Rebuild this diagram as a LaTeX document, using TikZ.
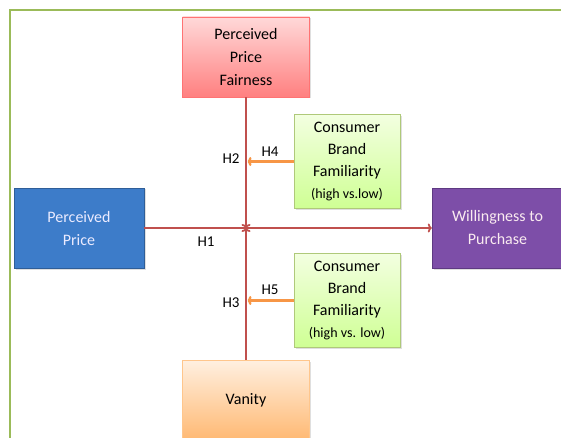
\documentclass[tikz,border=0pt]{standalone}
\usepackage{fontspec}
\setmainfont{Carlito}
\usetikzlibrary{arrows.meta,shadows}
\definecolor{framegreen}{HTML}{9BBB59}
\definecolor{redline}{HTML}{C0504D}
\definecolor{orangeline}{HTML}{F79646}
\definecolor{bluefill}{HTML}{3D7CC9}
\definecolor{blueborder}{HTML}{2F5E98}
\definecolor{purplefill}{HTML}{7D4EA8}
\definecolor{purpleborder}{HTML}{5E3A82}
\tikzset{
  x=1pt,y=1pt,
  boxbase/.style={rectangle,align=center,inner sep=0pt,font=\fontsize{16}{23}\selectfont,
    drop shadow={shadow xshift=1.5pt,shadow yshift=-1.5pt,opacity=0.25}},
  pinkbox/.style={boxbase,draw=red!55!white,top color=red!15!white,bottom color=red!50!white,
    minimum width=127pt,minimum height=80pt},
  greenbox/.style={boxbase,draw=framegreen!80!white,top color=green!40!yellow!12!white,bottom color=green!45!yellow!42!white,
    minimum width=106pt,minimum height=94pt,font=\fontsize{16}{22}\selectfont},
  bluebox/.style={boxbase,draw=blueborder,fill=bluefill,text=white!92!blue,
    minimum width=130pt,minimum height=80pt},
  purplebox/.style={boxbase,draw=purpleborder,fill=purplefill,text=white!92!purple,
    minimum width=131pt,minimum height=80pt},
  peachbox/.style={boxbase,draw=orange!45!white,top color=orange!12!white,bottom color=orange!55!white,
    minimum width=127pt,minimum height=80pt},
  redarrow/.style={draw=redline,line width=1.8pt,-{To[length=4pt,width=9pt]}},
  orangearrow/.style={draw=orangeline,line width=2.4pt,-{To[length=4pt,width=9pt]}},
  hlabel/.style={font=\fontsize{15}{18}\selectfont,inner sep=0pt},
}
\begin{document}
\begin{tikzpicture}
\clip (0,0) rectangle (561,-438);
\fill[white] (0,0) rectangle (561,-438);
\draw[framegreen,line width=2pt] (9.5,-10.5) rectangle (600,-480);

\node[pinkbox] (fair) at (246,-57) {Perceived\\Price\\Fairness};
\node[greenbox] (cbf1) at (347,-161.5) {Consumer\\Brand\\Familiarity\\{\fontsize{14}{22}\selectfont(high vs.low)}};
\node[greenbox] (cbf2) at (347,-300.5) {Consumer\\Brand\\Familiarity\\{\fontsize{14}{22}\selectfont(high vs. low)}};
\node[bluebox] (pp) at (79,-228) {Perceived\\Price};
\node[purplebox] (wtp) at (497.5,-228) {Willingness to\\Purchase};
\node[peachbox] (van) at (246,-400) {Vanity};

\coordinate (mid) at (246,-228);
\coordinate (m1) at ([xshift=1.5pt]cbf1.west -| fair.south);
\coordinate (m2) at ([xshift=1.5pt]cbf2.west -| fair.south);

\draw[redarrow] (pp.east) -- (wtp.west);
\draw[redarrow] (fair) -- (mid);
\draw[redline,line width=1.8pt,-{To[length=4pt,width=9pt]}] (van.north) -- (mid);
\draw[orangearrow] (cbf1.west) -- (m1);
\draw[orangearrow] (cbf2.west) -- (m2);

\node[hlabel] (h1) at (206,-242) {H1};
\node[hlabel] (h2) at (231,-159) {H2};
\node[hlabel] (h3) at (231,-303) {H3};
\node[hlabel] (h4) at (270,-152) {H4};
\node[hlabel] (h5) at (270,-290) {H5};
\end{tikzpicture}
\end{document}
